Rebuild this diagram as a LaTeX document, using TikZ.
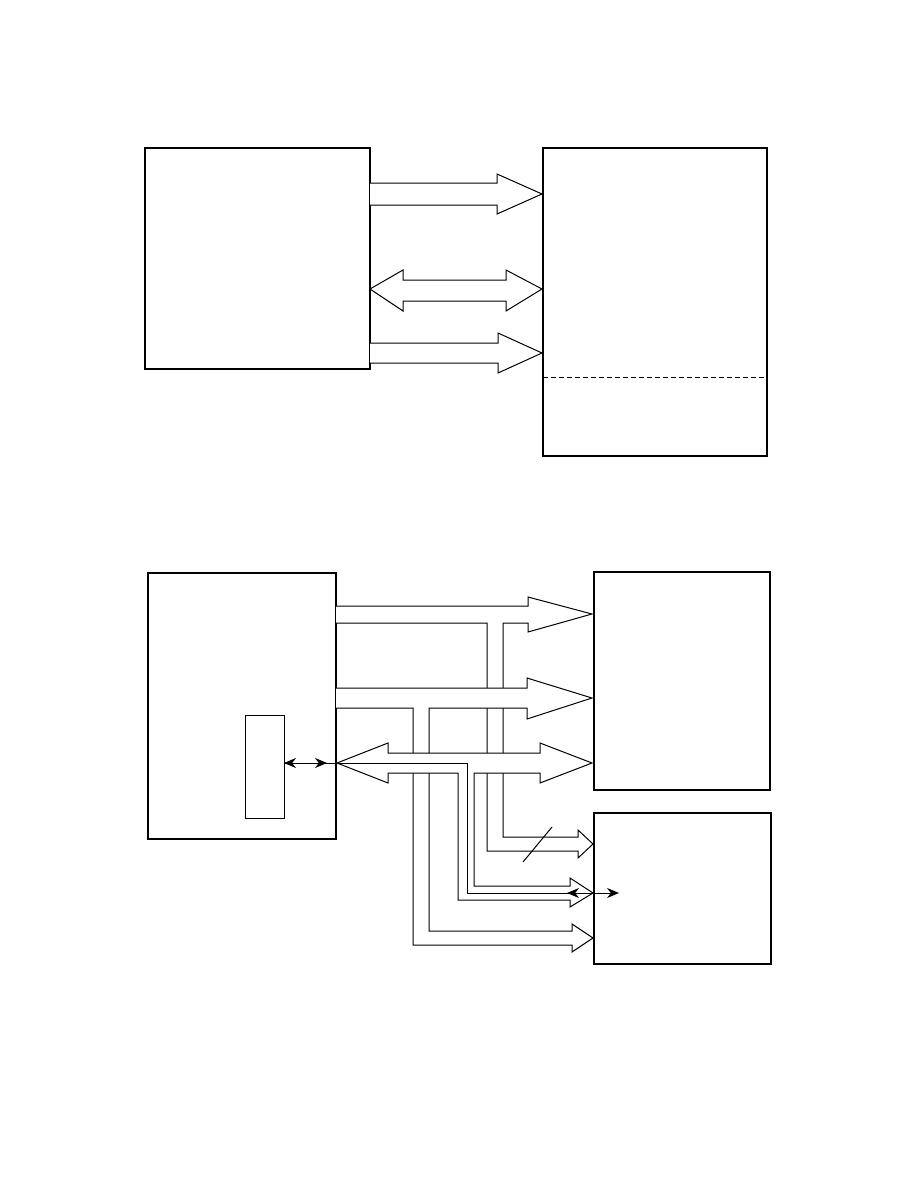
\documentclass[tikz,border=0pt]{standalone}
\usepackage{tikz}
\usetikzlibrary{arrows.meta,calc,positioning}

\tikzset{
  box/.style={draw, line width=1.5pt, inner sep=0pt, outer sep=0pt, anchor=north west},
  bus/.style={draw=black, line width=1pt, fill=white, line join=miter},
  sig/.style={line width=1pt},
  dbl/.style={line width=1pt, {Stealth[length=12pt,width=10pt]}-{Stealth[length=12pt,width=10pt]}}
}

\begin{document}
\begin{tikzpicture}[x=1pt, y=-1pt]

\useasboundingbox (0,0) rectangle (918,1188);

% upper picture
\node[box, minimum width=225pt, minimum height=221pt] (ctrl) at (145,148) {};
\node[box, minimum width=224pt, minimum height=308pt] (mem) at (543,148) {};
\draw [dashed, line width=0.9pt, dash pattern=on 5pt off 3pt] ($(mem.west) + (0,75)$) -- ($(mem.east) + (0,75)$);

\draw [bus] (370,183) -- (497,183) -- (497,174) -- (542,194) -- (497,214) -- (497,205) -- (370,205);
\draw [bus] (370,289) -- (403,270) -- (403,280) -- (506,280) -- (506,270) -- (542,289)
  -- (506,311) -- (506,301) -- (403,301) -- (403,311) -- cycle;
\draw [bus] (370,343) -- (498,343) -- (498,333) -- (542,353) -- (498,373) -- (498,363) -- (370,363);

% lower picture
\node[box, minimum width=188pt, minimum height=266pt] (host) at (148,573) {};
\node[box, line width=1pt, minimum width=39pt, minimum height=103pt] (port) at (245,715) {};
\node[box, minimum width=176pt, minimum height=218pt] (devA) at (594,572) {};
\node[box, minimum width=177pt, minimum height=151pt] (devB) at (594,813) {};

\filldraw [bus] (336,606) -- (528,606) -- (528,597) -- (592,614) -- (528,632) -- (528,623)
  -- (503,623) -- (503,837) -- (578,837) -- (578,830) -- (593,844) -- (578,858) -- (578,851)
  -- (487,851) -- (487,623) -- (336,623);

\filldraw [bus] (336,688) -- (527,688) -- (527,678) -- (592,698) -- (527,719) -- (527,708)
  -- (429,708) -- (429,931) -- (572,931) -- (572,924) -- (593,938) -- (572,952) -- (572,945)
  -- (413,945) -- (413,708) -- (336,708);

\filldraw [bus] (337,763) -- (388,743) -- (388,753) -- (540,753) -- (540,743) -- (592,763)
  -- (540,783) -- (540,773) -- (474,773) -- (474,886) -- (570,886) -- (570,878) -- (593,893)
  -- (570,907) -- (570,900) -- (458,900) -- (458,773) -- (388,773) -- (388,783) -- cycle;

\coordinate (pin) at ($(port.north east) + (0,48)$);
\coordinate (bend) at (467,763);
\coordinate (drop) at (467,893);
\coordinate (plug) at (devB.west |- drop);
\draw [sig] (pin) -- (bend) -- (drop) -- (plug);
\draw [dbl] (pin) -- ($(pin) + (43,0)$);
\draw [dbl] ($(plug) + (-27,0)$) -- ($(plug) + (25,0)$);

\draw [sig] (523,862) to (552,827);

\end{tikzpicture}
\end{document}
